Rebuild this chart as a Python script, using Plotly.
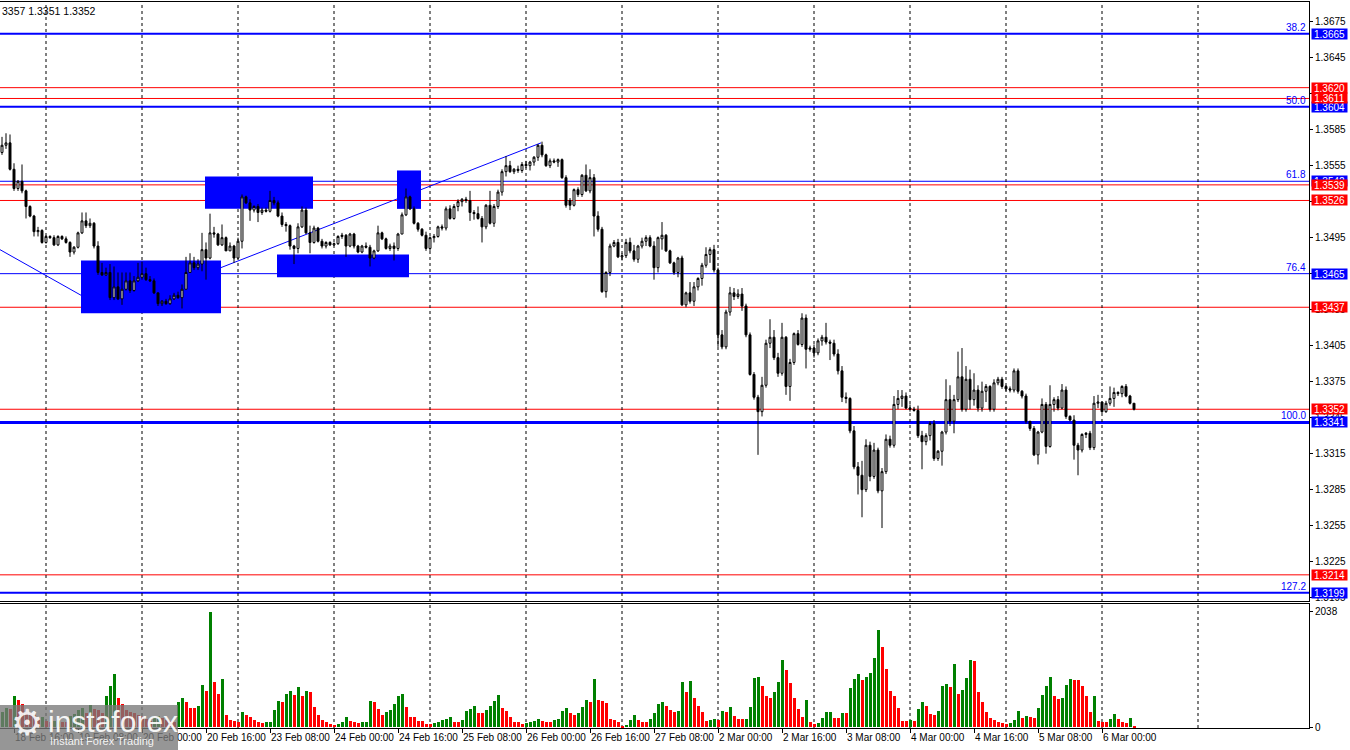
import plotly.graph_objects as go

# ---------------- data (GBP/USD H1) ----------------
OPEN = [
1.3566,1.3572,1.3574,1.3552,1.3536,1.3542,1.3534,1.3521,1.3513,1.3500,
1.3501,1.3491,1.3496,1.3495,1.3489,1.3496,1.3494,1.3491,1.3483,1.3487,
1.3499,1.3509,1.3505,1.3507,1.3488,1.3466,1.3464,1.3466,1.3445,1.3454,
1.3444,1.3452,1.3459,1.3451,1.3459,1.3462,1.3465,1.3460,1.3459,1.3449,
1.3440,1.3442,1.3440,1.3444,1.3447,1.3445,1.3452,1.3466,1.3474,1.3470,
1.3473,1.3485,1.3478,1.3499,1.3498,1.3489,1.3495,1.3484,1.3488,1.3478,
1.3492,1.3529,1.3524,1.3518,1.3521,1.3516,1.3518,1.3517,1.3526,1.3524,
1.3513,1.3506,1.3505,1.3488,1.3486,1.3504,1.3518,1.3499,1.3491,1.3503,
1.3492,1.3488,1.3491,1.3489,1.3490,1.3496,1.3497,1.3488,1.3498,1.3488,
1.3483,1.3488,1.3487,1.3478,1.3484,1.3499,1.3494,1.3486,1.3488,1.3486,
1.3498,1.3514,1.3529,1.3519,1.3507,1.3502,1.3497,1.3486,1.3495,1.3496,
1.3504,1.3503,1.3519,1.3511,1.3521,1.3525,1.3527,1.3526,1.3516,1.3515,
1.3511,1.3504,1.3522,1.3507,1.3521,1.3533,1.3550,1.3555,1.3550,1.3552,
1.3551,1.3556,1.3555,1.3558,1.3562,1.3572,1.3564,1.3555,1.3559,1.3558,
1.3560,1.3545,1.3526,1.3522,1.3535,1.3531,1.3547,1.3534,1.3545,1.3513,
1.3502,1.3450,1.3466,1.3488,1.3491,1.3479,1.3480,1.3491,1.3484,1.3477,
1.3488,1.3492,1.3495,1.3488,1.3470,1.3494,1.3497,1.3484,1.3474,1.3466,
1.3478,1.3439,1.3449,1.3442,1.3454,1.3461,1.3472,1.3481,1.3485,1.3468,
1.3414,1.3404,1.3433,1.3449,1.3446,1.3448,1.3438,1.3414,1.3381,1.3362,
1.3350,1.3372,1.3407,1.3412,1.3395,1.3382,1.3412,1.3371,1.3391,1.3415,
1.3406,1.3428,1.3402,1.3403,1.3399,1.3409,1.3412,1.3408,1.3407,1.3398,
1.3384,1.3362,1.3361,1.3334,1.3304,1.3297,1.3285,1.3322,1.3296,1.3318,
1.3284,1.3300,1.3327,1.3322,1.3356,1.3361,1.3363,1.3353,1.3352,1.3351,
1.3330,1.3325,1.3330,1.3340,1.3311,1.3317,1.3333,1.3360,1.3342,1.3360,
1.3379,1.3352,1.3377,1.3360,1.3368,1.3353,1.3367,1.3371,1.3352,1.3374,
1.3377,1.3371,1.3369,1.3368,1.3384,1.3367,1.3363,1.3342,1.3336,1.3314,
1.3333,1.3356,1.3321,1.3356,1.3360,1.3353,1.3368,1.3346,1.3343,1.3322,
1.3318,1.3331,1.3332,1.3320,1.3357,1.3358,1.3350,1.3357,1.3361,1.3366,
1.3365,1.3371,1.3363,1.3357]

HIGH = [
1.3579,1.3582,1.3581,1.3557,1.3543,1.3556,1.3535,1.3522,1.3514,1.3504,
1.3502,1.3497,1.3497,1.3497,1.3497,1.3497,1.3496,1.3492,1.3488,1.3500,
1.3516,1.3516,1.3511,1.3508,1.3492,1.3474,1.3470,1.3473,1.3471,1.3466,
1.3466,1.3466,1.3466,1.3463,1.3474,1.3475,1.3470,1.3463,1.3461,1.3449,
1.3443,1.3444,1.3447,1.3449,1.3450,1.3456,1.3479,1.3482,1.3479,1.3477,
1.3499,1.3491,1.3515,1.3504,1.3499,1.3506,1.3496,1.3491,1.3489,1.3495,
1.3531,1.3530,1.3527,1.3522,1.3523,1.3520,1.3520,1.3534,1.3529,1.3526,
1.3516,1.3508,1.3506,1.3489,1.3507,1.3521,1.3520,1.3505,1.3505,1.3504,
1.3494,1.3492,1.3492,1.3491,1.3497,1.3499,1.3498,1.3499,1.3499,1.3489,
1.3489,1.3491,1.3489,1.3485,1.3505,1.3500,1.3495,1.3490,1.3491,1.3499,
1.3516,1.3536,1.3530,1.3521,1.3508,1.3503,1.3500,1.3496,1.3498,1.3505,
1.3506,1.3521,1.3522,1.3523,1.3527,1.3528,1.3529,1.3534,1.3518,1.3521,
1.3513,1.3523,1.3534,1.3523,1.3535,1.3552,1.3563,1.3559,1.3553,1.3555,
1.3558,1.3559,1.3559,1.3563,1.3573,1.3575,1.3565,1.3561,1.3561,1.3561,
1.3561,1.3547,1.3528,1.3536,1.3537,1.3548,1.3556,1.3552,1.3548,1.3517,
1.3504,1.3467,1.3490,1.3493,1.3494,1.3482,1.3494,1.3495,1.3489,1.3489,
1.3495,1.3497,1.3497,1.3492,1.3496,1.3508,1.3498,1.3485,1.3475,1.3479,
1.3480,1.3450,1.3458,1.3458,1.3462,1.3474,1.3487,1.3487,1.3489,1.3470,
1.3418,1.3435,1.3454,1.3453,1.3452,1.3453,1.3440,1.3416,1.3383,1.3364,
1.3379,1.3410,1.3427,1.3418,1.3399,1.3424,1.3413,1.3394,1.3416,1.3418,
1.3432,1.3431,1.3405,1.3406,1.3411,1.3414,1.3424,1.3410,1.3410,1.3402,
1.3388,1.3366,1.3362,1.3338,1.3308,1.3309,1.3327,1.3325,1.3324,1.3320,
1.3303,1.3331,1.3330,1.3363,1.3368,1.3368,1.3366,1.3356,1.3354,1.3355,
1.3334,1.3332,1.3342,1.3343,1.3318,1.3334,1.3377,1.3372,1.3364,1.3400,
1.3403,1.3388,1.3385,1.3382,1.3372,1.3375,1.3373,1.3372,1.3377,1.3379,
1.3379,1.3372,1.3371,1.3386,1.3386,1.3368,1.3365,1.3342,1.3338,1.3334,
1.3361,1.3358,1.3372,1.3362,1.3363,1.3373,1.3371,1.3347,1.3347,1.3324,
1.3332,1.3333,1.3334,1.3363,1.3364,1.3358,1.3359,1.3371,1.3370,1.3367,
1.3372,1.3373,1.3364,1.3357]

LOW = [
1.3564,1.3569,1.3551,1.3534,1.3534,1.3532,1.3511,1.3512,1.3496,1.3496,
1.3490,1.3490,1.3494,1.3488,1.3488,1.3493,1.3490,1.3479,1.3481,1.3486,
1.3498,1.3503,1.3503,1.3486,1.3464,1.3463,1.3463,1.3443,1.3443,1.3443,
1.3439,1.3451,1.3449,1.3450,1.3458,1.3460,1.3459,1.3458,1.3448,1.3438,
1.3438,1.3439,1.3439,1.3443,1.3444,1.3436,1.3452,1.3466,1.3468,1.3468,
1.3467,1.3460,1.3477,1.3495,1.3488,1.3488,1.3484,1.3484,1.3474,1.3477,
1.3486,1.3523,1.3509,1.3516,1.3508,1.3514,1.3516,1.3516,1.3522,1.3512,
1.3504,1.3500,1.3485,1.3473,1.3482,1.3503,1.3498,1.3482,1.3490,1.3491,
1.3486,1.3486,1.3488,1.3488,1.3489,1.3494,1.3479,1.3487,1.3486,1.3482,
1.3482,1.3486,1.3471,1.3477,1.3483,1.3493,1.3485,1.3484,1.3476,1.3484,
1.3498,1.3513,1.3518,1.3506,1.3500,1.3496,1.3484,1.3484,1.3491,1.3495,
1.3501,1.3501,1.3510,1.3510,1.3517,1.3521,1.3524,1.3509,1.3510,1.3510,
1.3491,1.3502,1.3506,1.3504,1.3519,1.3530,1.3546,1.3549,1.3548,1.3549,
1.3549,1.3553,1.3551,1.3555,1.3559,1.3562,1.3554,1.3553,1.3557,1.3554,
1.3544,1.3520,1.3518,1.3521,1.3529,1.3529,1.3533,1.3532,1.3496,1.3500,
1.3449,1.3445,1.3463,1.3487,1.3478,1.3476,1.3478,1.3482,1.3475,1.3474,
1.3486,1.3488,1.3487,1.3460,1.3466,1.3485,1.3483,1.3473,1.3464,1.3462,
1.3438,1.3437,1.3440,1.3438,1.3451,1.3455,1.3470,1.3474,1.3466,1.3404,
1.3402,1.3402,1.3430,1.3443,1.3444,1.3434,1.3412,1.3380,1.3360,1.3314,
1.3346,1.3370,1.3403,1.3393,1.3379,1.3380,1.3364,1.3359,1.3389,1.3405,
1.3404,1.3386,1.3400,1.3395,1.3397,1.3405,1.3406,1.3393,1.3396,1.3381,
1.3358,1.3357,1.3332,1.3302,1.3281,1.3262,1.3283,1.3292,1.3294,1.3282,
1.3253,1.3298,1.3320,1.3320,1.3352,1.3354,1.3352,1.3350,1.3350,1.3328,
1.3302,1.3322,1.3326,1.3309,1.3309,1.3305,1.3331,1.3338,1.3332,1.3358,
1.3350,1.3350,1.3352,1.3355,1.3350,1.3350,1.3358,1.3350,1.3350,1.3372,
1.3369,1.3367,1.3366,1.3366,1.3365,1.3361,1.3340,1.3334,1.3313,1.3306,
1.3332,1.3315,1.3320,1.3350,1.3351,1.3352,1.3344,1.3342,1.3310,1.3297,
1.3316,1.3328,1.3318,1.3318,1.3353,1.3349,1.3349,1.3355,1.3354,1.3363,
1.3362,1.3362,1.3356,1.3351]

CLOSE = [
1.3572,1.3574,1.3552,1.3536,1.3542,1.3534,1.3521,1.3513,1.3500,1.3501,
1.3491,1.3496,1.3495,1.3489,1.3496,1.3494,1.3491,1.3483,1.3487,1.3499,
1.3509,1.3505,1.3507,1.3488,1.3466,1.3464,1.3466,1.3445,1.3454,1.3444,
1.3452,1.3459,1.3451,1.3459,1.3462,1.3465,1.3460,1.3459,1.3449,1.3440,
1.3442,1.3440,1.3444,1.3447,1.3445,1.3452,1.3466,1.3474,1.3470,1.3473,
1.3485,1.3478,1.3499,1.3498,1.3489,1.3495,1.3484,1.3488,1.3478,1.3492,
1.3529,1.3524,1.3518,1.3521,1.3516,1.3518,1.3517,1.3526,1.3524,1.3513,
1.3506,1.3505,1.3488,1.3486,1.3504,1.3518,1.3499,1.3491,1.3503,1.3492,
1.3488,1.3491,1.3489,1.3490,1.3496,1.3497,1.3488,1.3498,1.3488,1.3483,
1.3488,1.3487,1.3478,1.3484,1.3499,1.3494,1.3486,1.3488,1.3486,1.3498,
1.3514,1.3529,1.3519,1.3507,1.3502,1.3497,1.3486,1.3495,1.3496,1.3504,
1.3503,1.3519,1.3511,1.3521,1.3525,1.3527,1.3526,1.3516,1.3515,1.3511,
1.3504,1.3522,1.3507,1.3521,1.3533,1.3550,1.3555,1.3550,1.3552,1.3551,
1.3556,1.3555,1.3558,1.3562,1.3572,1.3564,1.3555,1.3559,1.3558,1.3560,
1.3545,1.3522,1.3522,1.3535,1.3531,1.3547,1.3534,1.3545,1.3513,1.3502,
1.3450,1.3466,1.3488,1.3491,1.3479,1.3480,1.3491,1.3484,1.3477,1.3488,
1.3492,1.3495,1.3488,1.3470,1.3495,1.3497,1.3484,1.3474,1.3466,1.3478,
1.3439,1.3449,1.3442,1.3454,1.3461,1.3472,1.3481,1.3485,1.3468,1.3414,
1.3404,1.3433,1.3449,1.3446,1.3448,1.3438,1.3414,1.3381,1.3362,1.3350,
1.3372,1.3407,1.3412,1.3395,1.3382,1.3412,1.3371,1.3391,1.3415,1.3406,
1.3428,1.3402,1.3403,1.3399,1.3409,1.3412,1.3408,1.3407,1.3398,1.3384,
1.3362,1.3361,1.3334,1.3304,1.3297,1.3285,1.3322,1.3296,1.3318,1.3284,
1.3300,1.3327,1.3322,1.3356,1.3361,1.3363,1.3353,1.3352,1.3351,1.3330,
1.3325,1.3330,1.3340,1.3311,1.3317,1.3333,1.3360,1.3342,1.3360,1.3379,
1.3352,1.3377,1.3360,1.3368,1.3353,1.3367,1.3371,1.3352,1.3374,1.3377,
1.3371,1.3369,1.3368,1.3384,1.3367,1.3363,1.3342,1.3336,1.3314,1.3333,
1.3356,1.3321,1.3356,1.3360,1.3353,1.3368,1.3346,1.3343,1.3322,1.3318,
1.3331,1.3332,1.3320,1.3357,1.3358,1.3350,1.3357,1.3361,1.3366,1.3365,
1.3371,1.3363,1.3357,1.3352]

VOLUME = [
280,350,330,557,486,416,330,260,220,150,
180,120,90,110,140,100,90,200,240,300,
350,250,400,330,300,250,557,733,943,516,
416,310,280,250,220,200,150,120,180,210,
160,130,120,100,451,516,451,346,340,381,
750,633,2038,791,592,855,211,135,111,105,
281,211,176,123,94,76,88,105,310,457,
450,592,650,574,709,545,633,620,357,223,
123,88,64,47,64,105,176,117,88,82,
95,105,469,451,328,223,275,310,416,557,
592,363,187,182,117,110,64,60,76,105,
123,152,193,100,95,123,293,328,381,258,
250,300,369,469,574,346,293,176,100,88,
70,82,88,111,152,111,105,100,123,152,
293,346,258,223,252,363,486,451,855,486,
470,434,152,135,100,29,47,135,223,135,
100,95,152,258,416,451,381,310,275,293,
791,615,809,510,381,275,117,135,146,123,
293,281,363,205,152,141,152,363,873,891,
733,557,522,627,803,1190,1014,785,522,328,
188,486,100,64,76,170,275,281,170,165,
258,250,697,856,943,838,891,955,1225,1717,
1418,1031,645,557,346,117,110,135,117,328,
451,381,229,223,293,733,768,715,1119,592,
662,873,1190,1160,615,451,275,170,135,100,
82,64,76,135,293,170,205,188,170,346,
574,733,891,557,504,522,750,856,838,826,
733,557,275,557,117,100,88,152,240,152,
100,82,170,12]

HEADER_TEXT = "3357 1.3351 1.3352"

XTICK_POS = [3, 19, 35, 51, 67, 83, 99, 115, 131, 147, 163, 179, 195, 211, 227, 243, 259, 275]
XTICK_TEXT = ["18 Feb 16:00", "19 Feb 08:00", "20 Feb 00:00", "20 Feb 16:00", "23 Feb 08:00",
              "24 Feb 00:00", "24 Feb 16:00", "25 Feb 08:00", "26 Feb 00:00", "26 Feb 16:00",
              "27 Feb 08:00", "2 Mar 00:00", "2 Mar 16:00", "3 Mar 08:00", "4 Mar 00:00",
              "4 Mar 16:00", "5 Mar 08:00", "6 Mar 00:00"]
DAY_GRID = [11, 35, 59, 83, 107, 131, 155, 179, 203, 227, 251, 275, 299]

PRICE_TICKS = [1.3195, 1.3225, 1.3255, 1.3285, 1.3315, 1.3345, 1.3375, 1.3405, 1.3435,
               1.3465, 1.3495, 1.3525, 1.3555, 1.3585, 1.3615, 1.3645, 1.3675]
VOL_TICKS = [0, 2038]

RED_LEVELS = [1.3620, 1.3611, 1.3539, 1.3526, 1.3437, 1.3352, 1.3214]
FIB_LEVELS = [1.3665, 1.3604, 1.3542, 1.3465, 1.3341, 1.3199]
FIB_NAMES = ["38.2", "50.0", "61.8", "76.4", "100.0", "127.2"]

ZONE_X0 = [19.75, 50.75, 68.75, 98.75]
ZONE_X1 = [54.75, 77.75, 101.75, 104.75]
ZONE_LOW = [1.3432, 1.3519, 1.3462, 1.3519]
ZONE_HIGH = [1.3476, 1.3546, 1.3481, 1.3551]

TREND_X0 = [-0.5, 54.7]
TREND_Y0 = [1.3485, 1.3470]
TREND_X1 = [19.75, 134.75]
TREND_Y1 = [1.3447, 1.3574]

# ---------------- figure ----------------
FONT = "Liberation Sans, Arial, sans-serif"
BLUE = "#0000FF"
RED = "#FF0000"
GREEN = "#008000"

X = list(range(len(CLOSE)))
vol_colors = [GREEN] + [GREEN if VOLUME[k] > VOLUME[k - 1] else RED for k in range(1, len(VOLUME))]

fig = go.Figure()
fig.add_trace(go.Candlestick(
    x=X, open=OPEN, high=HIGH, low=LOW, close=CLOSE,
    increasing=dict(line=dict(color="black", width=1), fillcolor="white"),
    decreasing=dict(line=dict(color="black", width=1), fillcolor="black"),
    whiskerwidth=0, xaxis="x", yaxis="y", showlegend=False, hoverinfo="skip",
))
fig.add_trace(go.Bar(
    x=X, y=VOLUME, marker=dict(color=vol_colors, line=dict(width=0)),
    width=0.75, xaxis="x2", yaxis="y2", showlegend=False, hoverinfo="skip",
))

shapes = []
for x0, x1, lo, hi in zip(ZONE_X0, ZONE_X1, ZONE_LOW, ZONE_HIGH):
    shapes.append(dict(type="rect", xref="x", yref="y", x0=x0, x1=x1, y0=lo, y1=hi,
                       fillcolor=BLUE, line=dict(width=0), layer="below"))
for v in RED_LEVELS:
    shapes.append(dict(type="line", xref="paper", yref="y", x0=0, x1=1, y0=v, y1=v,
                       line=dict(color=RED, width=1), layer="below"))
fib_w = {1.3665: 2, 1.3604: 2, 1.3542: 1, 1.3465: 1, 1.3341: 3, 1.3199: 2}
for v in FIB_LEVELS:
    shapes.append(dict(type="line", xref="paper", yref="y", x0=0, x1=1, y0=v, y1=v,
                       line=dict(color=BLUE, width=fib_w[v]), layer="below"))
for x0, y0, x1, y1 in zip(TREND_X0, TREND_Y0, TREND_X1, TREND_Y1):
    shapes.append(dict(type="line", xref="x", yref="y", x0=x0, x1=x1, y0=y0, y1=y1,
                       line=dict(color=BLUE, width=1), layer="below"))
for g in DAY_GRID:
    shapes.append(dict(type="line", xref="x", yref="paper", x0=g, x1=g, y0=0, y1=1,
                       line=dict(color="black", width=1, dash="3px,3px"), layer="below"))
# watermark box
shapes.append(dict(type="rect", xref="paper", yref="paper",
                   x0=0, x1=178 / 1309, y0=(728 - 752) / 726, y1=(728 - 705) / 726,
                   fillcolor="rgba(120,120,120,0.78)", line=dict(width=0), layer="above"))

annotations = []
annotations.append(dict(xref="paper", yref="paper", x=0.0, y=(728 - 11) / 726,
                        xanchor="left", yanchor="middle", text=HEADER_TEXT, showarrow=False,
                        font=dict(family=FONT, size=10.5, color="black")))
for v, n in zip(FIB_LEVELS, FIB_NAMES):
    annotations.append(dict(xref="paper", yref="y", x=1 - 2 / 1309, y=v, xanchor="right",
                            yanchor="bottom", text=n, showarrow=False, borderpad=0,
                            font=dict(family=FONT, size=10, color=BLUE)))
for v in FIB_LEVELS:
    annotations.append(dict(xref="paper", yref="y", x=1311 / 1309, y=v, xanchor="left",
                            yanchor="middle", text=f"{v:.4f}", showarrow=False,
                            bgcolor=BLUE, width=35, height=10, borderpad=0, align="center",
                            font=dict(family=FONT, size=10, color="white")))
for v in RED_LEVELS:
    annotations.append(dict(xref="paper", yref="y", x=1311 / 1309, y=v, xanchor="left",
                            yanchor="middle", text=f"{v:.4f}", showarrow=False,
                            bgcolor=RED, width=35, height=10, borderpad=0, align="center",
                            font=dict(family=FONT, size=10, color="white")))
annotations.append(dict(xref="paper", yref="paper", x=27 / 1309, y=(728 - 722) / 726,
                        xanchor="center", yanchor="middle", text="⚙", showarrow=False,
                        font=dict(family="DejaVu Sans", size=36, color="rgba(255,255,255,0.9)")))
annotations.append(dict(xref="paper", yref="paper", x=46 / 1309, y=(728 - 721) / 726,
                        xanchor="left", yanchor="middle", text="instaforex", showarrow=False,
                        font=dict(family=FONT, size=30, color="rgba(255,255,255,0.92)")))
annotations.append(dict(xref="paper", yref="paper", x=48 / 1309, y=(728 - 741) / 726,
                        xanchor="left", yanchor="middle", text="Instant Forex Trading",
                        showarrow=False,
                        font=dict(family=FONT, size=11, color="rgba(255,255,255,0.9)")))

axis_common = dict(showgrid=False, zeroline=False, showline=True, mirror=True,
                   linecolor="black", linewidth=1)

fig.update_layout(
    width=1350, height=750,
    margin=dict(l=0, r=41, t=2, b=22),
    paper_bgcolor="white", plot_bgcolor="white",
    showlegend=False, bargap=0,
    font=dict(family=FONT, size=10, color="black"),
    xaxis=dict(domain=[0, 1], range=[-0.5, 326.75], anchor="y", showticklabels=False,
               ticks="", rangeslider=dict(visible=False), **axis_common),
    xaxis2=dict(domain=[0, 1], range=[-0.5, 326.75], anchor="y2", matches="x",
                tickmode="array", tickvals=XTICK_POS, ticktext=XTICK_TEXT, tickangle=0,
                ticks="outside", ticklen=4, tickcolor="black",
                ticklabelposition="outside right",
                tickfont=dict(family=FONT, size=10, color="black"), **axis_common),
    yaxis=dict(domain=[(728 - 601) / 726, 1], range=[1.31922, 1.36914], side="right",
               anchor="x", tickmode="array", tickvals=PRICE_TICKS, tickformat=".4f",
               ticks="outside", ticklen=3, tickcolor="black",
               tickfont=dict(family=FONT, size=10, color="black"), **axis_common),
    yaxis2=dict(domain=[0, (728 - 604) / 726], range=[-9, 2170], side="right",
                anchor="x2", tickmode="array", tickvals=VOL_TICKS,
                ticktext=[str(v) for v in VOL_TICKS],
                ticks="outside", ticklen=3, tickcolor="black",
                tickfont=dict(family=FONT, size=10, color="black"), **axis_common),
    shapes=shapes,
    annotations=annotations,
)

fig.write_html("out.html", config={"displayModeBar": False},
               post_script="document.body.style.margin='0';document.body.style.overflow='hidden';")
